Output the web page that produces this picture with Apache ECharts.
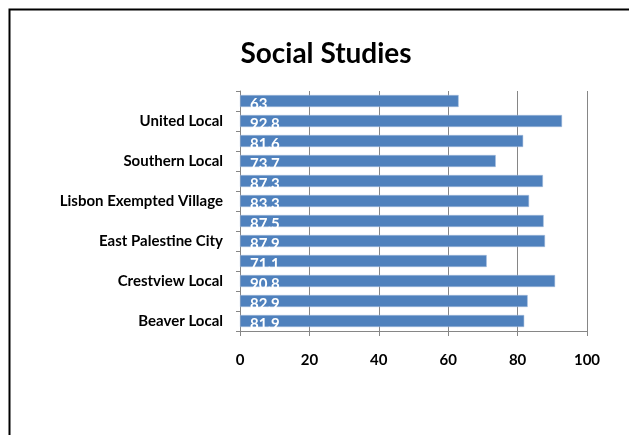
<!DOCTYPE html>
<html>
<head>
<meta charset="utf-8">
<script src="https://cdn.jsdelivr.net/npm/echarts@6/dist/echarts.min.js"></script>
<style>html,body{margin:0;padding:0;background:#fff}#c{width:629px;height:435px}</style>
</head>
<body>
<div id="c"></div>
<script>
// bottom to top
var categories = ['Beaver Local', '', 'Crestview Local', ' ', 'East Palestine City', '  ', 'Lisbon Exempted Village', '   ', 'Southern Local', '    ', 'United Local', '     '];
var values = [81.9, 82.9, 90.8, 71.1, 87.9, 87.5, 83.3, 87.3, 73.7, 81.6, 92.8, 63];
var xTicks = [0, 20, 40, 60, 80, 100];
var titleText = 'Social Studies';

var FONT = 'Lato, "Open Sans", sans-serif';
var chart = echarts.init(document.getElementById('c'), null, {renderer: 'canvas'});
chart.setOption({
  animation: false,
  backgroundColor: '#fff',
  title: {
    text: titleText,
    left: 321, top: 35, textAlign: 'center',
    textStyle: {fontFamily: FONT, fontWeight: 'bold', fontSize: 28, color: '#000'}
  },
  graphic: [{
    type: 'rect', left: 7, top: 7,
    shape: {width: 640, height: 450},
    style: {fill: null, stroke: '#000', lineWidth: 2}
  }],
  grid: {left: 240, right: 42, top: 91, bottom: 104, containLabel: false},
  xAxis: {
    type: 'value', min: xTicks[0], max: xTicks[xTicks.length - 1], interval: 20,
    axisLine: {show: true, lineStyle: {color: '#868686', width: 1}},
    axisTick: {show: true, length: 5, lineStyle: {color: '#868686'}},
    splitLine: {show: true, lineStyle: {color: '#868686', width: 1}},
    axisLabel: {margin: 22, fontFamily: FONT, fontWeight: 'bold', fontSize: 15, color: '#000'}
  },
  yAxis: {
    type: 'category', data: categories,
    axisLine: {show: true, lineStyle: {color: '#868686', width: 1}},
    axisTick: {show: true, length: 4, interval: 0, lineStyle: {color: '#868686'}},
    axisLabel: {interval: 1, margin: 17, fontFamily: FONT, fontWeight: 'bold', fontSize: 15, color: '#000'}
  },
  series: [{
    type: 'bar', data: values,
    barCategoryGap: '40%',
    itemStyle: {color: '#4F81BD', borderColor: '#A7BFDE', borderWidth: 0.5},
    label: {
      show: true, position: 'insideLeft', distance: 10, offset: [0, 3],
      color: '#fff', fontFamily: FONT, fontWeight: 'bold', fontSize: 15
    }
  }]
});
</script>
</body>
</html>
